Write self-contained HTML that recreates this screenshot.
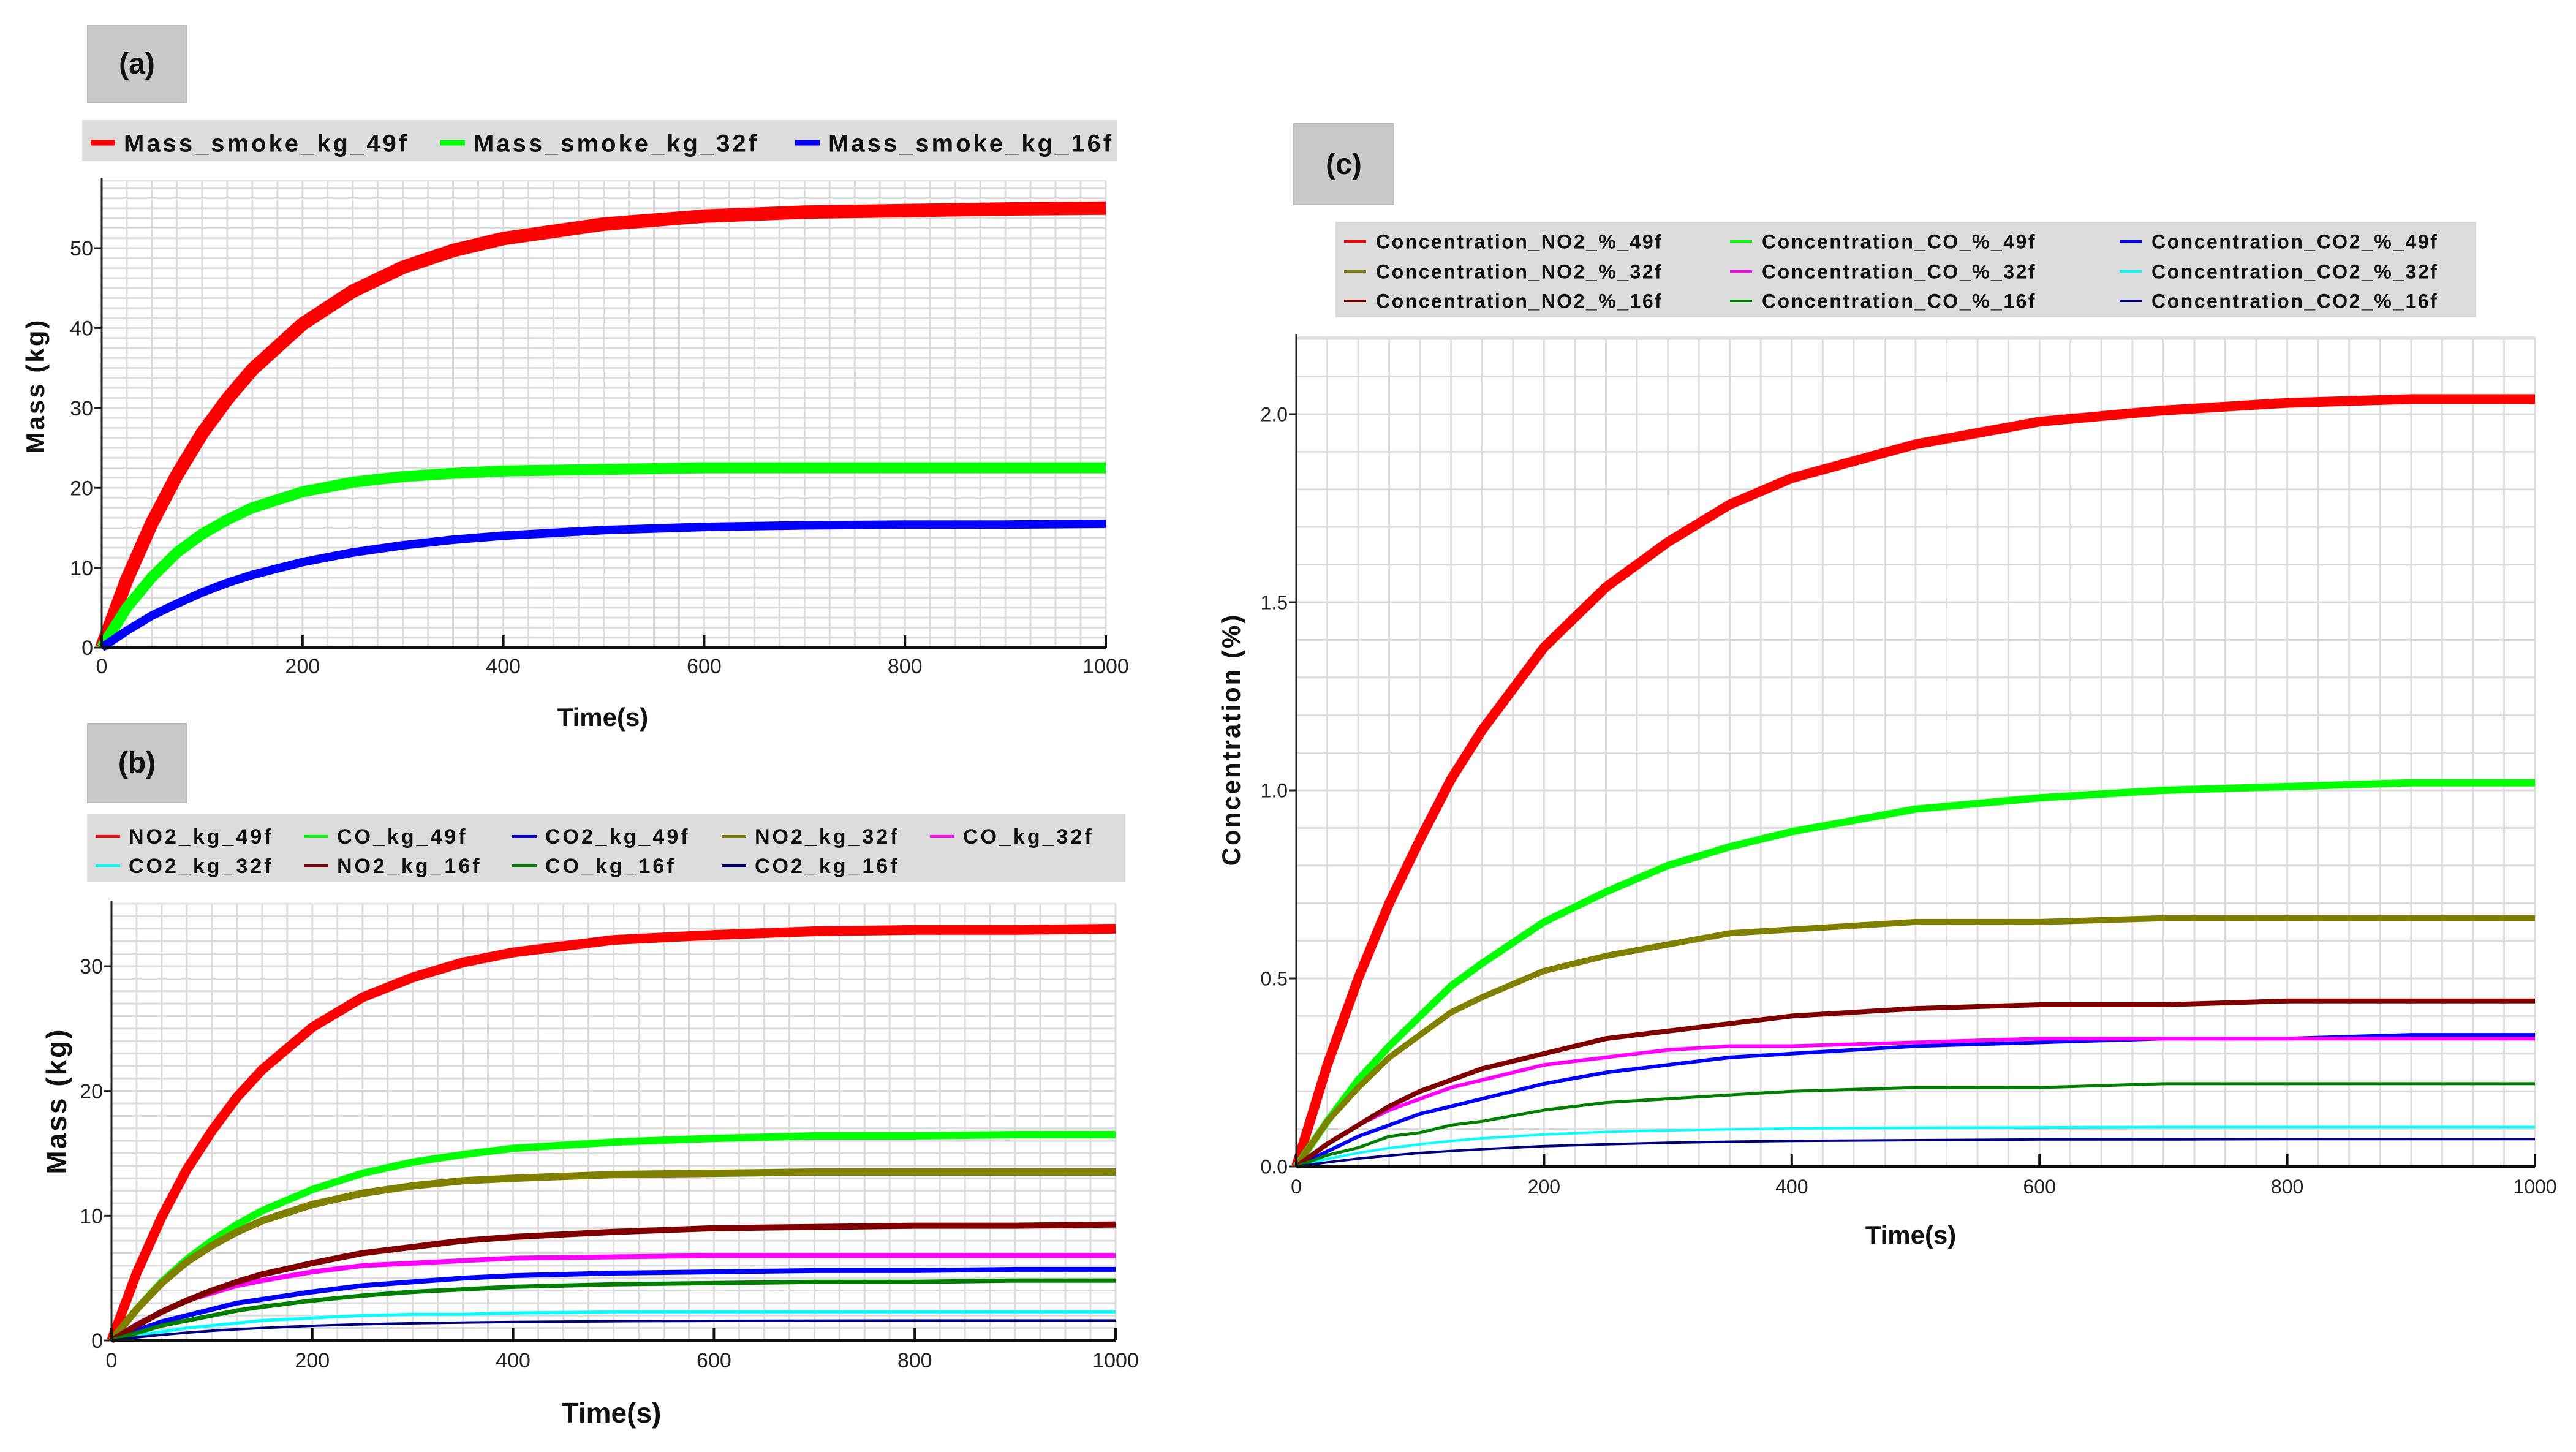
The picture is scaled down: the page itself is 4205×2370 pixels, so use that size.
<!DOCTYPE html>
<html><head><meta charset="utf-8"><style>
html,body{margin:0;padding:0;background:#fff;}
#root{position:relative;width:4205px;height:2370px;overflow:hidden;font-family:"Liberation Sans",sans-serif;}
.lbl{position:absolute;background:#c8c8c8;border:2px solid #bbb;font-weight:bold;font-size:48px;display:flex;align-items:center;justify-content:center;color:#111;}
.leg{position:absolute;background:#dcdcdc;}
svg{position:absolute;left:0;top:0;}
</style></head><body>
<div id="root">
<div class="lbl" style="left:142px;top:40px;width:159px;height:124px;">(a)</div>
<div class="leg" style="left:134px;top:196px;width:1690px;height:67px;"></div>
<div class="lbl" style="left:142px;top:1180px;width:159px;height:127px;">(b)</div>
<div class="leg" style="left:142px;top:1328px;width:1695px;height:112px;"></div>
<div class="lbl" style="left:2111px;top:201px;width:161px;height:130px;">(c)</div>
<div class="leg" style="left:2180px;top:362px;width:1862px;height:156px;"></div>
<svg id="svg" width="4205" height="2370"></svg>
</div>
<script>
// ---- data ----
const times = [0,25,50,75,100,125,150,200,250,300,350,400,500,600,700,800,900,1000];
const xTicks = [0,200,400,600,800,1000];
// Panel (a)
const aNames = ["Mass_smoke_kg_49f","Mass_smoke_kg_32f","Mass_smoke_kg_16f"];
const aRed = [0,8.5,15.6,21.6,26.8,31.1,34.8,40.5,44.6,47.6,49.7,51.2,53.0,54.0,54.5,54.7,54.9,55.0];
const aGreen = [0,5.0,8.8,11.9,14.2,16.0,17.5,19.5,20.7,21.4,21.8,22.1,22.3,22.5,22.5,22.5,22.5,22.5];
const aBlue = [0,2.1,4.0,5.5,6.9,8.1,9.1,10.7,11.9,12.8,13.5,14.0,14.7,15.1,15.3,15.4,15.4,15.5];
const aYTicks = [0,10,20,30,40,50];
// Panel (b)
const bNames = ["NO2_kg_49f","CO_kg_49f","CO2_kg_49f","NO2_kg_32f","CO_kg_32f","CO2_kg_32f","NO2_kg_16f","CO_kg_16f","CO2_kg_16f"];
const bNO2_49 = [0,5.4,9.9,13.7,16.8,19.5,21.7,25.1,27.5,29.1,30.3,31.1,32.1,32.5,32.8,32.9,32.9,33.0];
const bCO_49 = [0,2.5,4.7,6.5,8.0,9.3,10.4,12.1,13.4,14.3,14.9,15.4,15.9,16.2,16.4,16.4,16.5,16.5];
const bCO2_49 = [0,0.8,1.5,2.0,2.5,3.0,3.3,3.9,4.4,4.7,5.0,5.2,5.4,5.5,5.6,5.6,5.7,5.7];
const bNO2_32 = [0,2.5,4.6,6.3,7.6,8.7,9.6,10.9,11.8,12.4,12.8,13.0,13.3,13.4,13.5,13.5,13.5,13.5];
const bCO_32 = [0,1.3,2.3,3.2,3.8,4.4,4.8,5.5,6.0,6.2,6.4,6.6,6.7,6.8,6.8,6.8,6.8,6.8];
const bCO2_32 = [0,0.4,0.7,1.0,1.2,1.4,1.6,1.8,2.0,2.1,2.1,2.2,2.3,2.3,2.3,2.3,2.3,2.3];
const bNO2_16 = [0,1.2,2.3,3.2,4.0,4.7,5.3,6.2,7.0,7.5,8.0,8.3,8.7,9.0,9.1,9.2,9.2,9.3];
const bCO_16 = [0,0.6,1.2,1.6,2.0,2.4,2.7,3.2,3.6,3.9,4.1,4.3,4.5,4.6,4.7,4.7,4.8,4.8];
const bCO2_16 = [0,0.25,0.45,0.63,0.78,0.9,1.0,1.18,1.3,1.38,1.44,1.49,1.54,1.57,1.59,1.6,1.6,1.6];
const bYTicks = [0,10,20,30];
// Panel (c)
const cNames = ["Concentration_NO2_%_49f","Concentration_CO_%_49f","Concentration_CO2_%_49f","Concentration_NO2_%_32f","Concentration_CO_%_32f","Concentration_CO2_%_32f","Concentration_NO2_%_16f","Concentration_CO_%_16f","Concentration_CO2_%_16f"];
const cNO2_49 = [0,0.27,0.50,0.70,0.87,1.03,1.16,1.38,1.54,1.66,1.76,1.83,1.92,1.98,2.01,2.03,2.04,2.04];
const cCO_49 = [0,0.12,0.23,0.32,0.40,0.48,0.54,0.65,0.73,0.80,0.85,0.89,0.95,0.98,1.0,1.01,1.02,1.02];
const cCO2_49 = [0,0.04,0.08,0.11,0.14,0.16,0.18,0.22,0.25,0.27,0.29,0.30,0.32,0.33,0.34,0.34,0.35,0.35];
const cNO2_32 = [0,0.12,0.21,0.29,0.35,0.41,0.45,0.52,0.56,0.59,0.62,0.63,0.65,0.65,0.66,0.66,0.66,0.66];
const cCO_32 = [0,0.06,0.11,0.15,0.18,0.21,0.23,0.27,0.29,0.31,0.32,0.32,0.33,0.34,0.34,0.34,0.34,0.34];
const cCO2_32 = [0,0.02,0.036,0.049,0.059,0.068,0.075,0.085,0.092,0.096,0.099,0.101,0.103,0.104,0.105,0.105,0.105,0.105];
const cNO2_16 = [0,0.06,0.11,0.16,0.20,0.23,0.26,0.30,0.34,0.36,0.38,0.40,0.42,0.43,0.43,0.44,0.44,0.44];
const cCO_16 = [0,0.03,0.05,0.08,0.09,0.11,0.12,0.15,0.17,0.18,0.19,0.20,0.21,0.21,0.22,0.22,0.22,0.22];
const cCO2_16 = [0,0.011,0.021,0.029,0.036,0.041,0.046,0.054,0.059,0.063,0.066,0.068,0.070,0.072,0.072,0.073,0.073,0.073];
const cYTicks = ["0.0","0.5","1.0","1.5","2.0"];

const NS = "http://www.w3.org/2000/svg";
const svg = document.getElementById('svg');
function mk(tag, attrs, parent){ const e=document.createElementNS(NS,tag); for(const k in attrs) e.setAttribute(k,attrs[k]); (parent||svg).appendChild(e); return e; }

function chart(cfg){
  const g = mk('g',{});
  
  
  const xs = v => cfg.x0 + (v/1000)*(cfg.x1-cfg.x0);
  const ys = v => cfg.y0 - (v/cfg.ymaxRef)*(cfg.y0-cfg.yRef);
  for(let t=0;t<=1000;t+=25){
    const x=xs(t);
    mk('line',{x1:x,x2:x,y1:cfg.top,y2:cfg.y0,stroke:'#dcdcdc','stroke-width':3},g);
  }
  for(let v=cfg.gstep; ys(v)>=cfg.top-1; v+=cfg.gstep){
    const y=ys(v);
    mk('line',{x1:cfg.x0,x2:cfg.x1,y1:y,y2:y,stroke:'#dcdcdc','stroke-width':3},g);
  }
  mk('line',{x1:cfg.x0,x2:cfg.x1,y1:cfg.top,y2:cfg.top,stroke:'#e4e4e4','stroke-width':3},g);
  cfg.series.forEach((s,i)=>{
    const pts = times.map((t,j)=>xs(t).toFixed(1)+','+ys(s.data[j]).toFixed(1)).join(' ');
    const p = mk('polyline',{points:pts,fill:'none',stroke:s.color,'stroke-width':s.w,'stroke-linejoin':'round'},g);
    
    
  });
  mk('line',{x1:cfg.x0,x2:cfg.x0,y1:cfg.top-5,y2:cfg.y0,stroke:'#222','stroke-width':3},g);
  mk('line',{x1:cfg.x0,x2:cfg.x1,y1:cfg.y0,y2:cfg.y0,stroke:'#111','stroke-width':5},g);
  xTicks.forEach(t=>{
    const x=xs(t);
    mk('line',{x1:x,x2:x,y1:cfg.y0-20,y2:cfg.y0,stroke:'#111','stroke-width':4},g);
    const tx=mk('text',{x:x,y:cfg.y0+cfg.xlOff,'text-anchor':'middle','font-size':cfg.fs,fill:'#222'},g);
    tx.textContent=t;
    
    
  });
  cfg.yTicks.forEach(t=>{
    const y=ys(parseFloat(t));
    mk('line',{x1:cfg.x0-12,x2:cfg.x0,y1:y,y2:y,stroke:'#222','stroke-width':3},g);
    const tx=mk('text',{x:cfg.x0-14,y:y+cfg.fs*0.36,'text-anchor':'end','font-size':cfg.fs,fill:'#222'},g);
    tx.textContent=t;
    
    
  });
  const xt=mk('text',{x:cfg.xtX,y:cfg.xtY,'text-anchor':'middle','font-size':cfg.tfs,'font-weight':'bold',fill:'#111'},g);
  xt.textContent='Time(s)';
  
  
  const yt=mk('text',{x:0,y:0,'text-anchor':'middle','font-size':cfg.tfs,'font-weight':'bold',fill:'#111','letter-spacing':'3',transform:`translate(${cfg.ytX},${cfg.ytY}) rotate(-90)`},g);
  yt.textContent=cfg.ytitle;
  
  
  cfg.series.forEach((s,i)=>{
    const lx=cfg.legX[i%cfg.legCols], ly=cfg.legY[Math.floor(i/cfg.legCols)];
    mk('line',{x1:lx,x2:lx+cfg.legLine,y1:ly,y2:ly,stroke:s.color,'stroke-width':cfg.legW},g);
    const tx=mk('text',{x:lx+cfg.legLine+cfg.legGap,y:ly+cfg.lfs*0.36,'font-size':cfg.lfs,'font-weight':'bold',fill:'#111','letter-spacing':cfg.ls},g);
    tx.textContent=s.label;
    
    
  });
}

chart({name:'panel-a-chart',x0:166,x1:1805,y0:1057,yRef:405,ymaxRef:50,top:295,gstep:1.25,fs:34,xlOff:42,
  yTicks:aYTicks,tfs:42,xtX:984,xtY:1185,ytX:72,ytY:630,ytitle:'Mass (kg)',
  series:[{label:aNames[0],data:aRed,color:'#ff0000',w:22},{label:aNames[1],data:aGreen,color:'#00ff00',w:18},{label:aNames[2],data:aBlue,color:'#0000ff',w:14}],
  legX:[148,719,1298],legY:[233],legCols:3,legLine:40,legGap:14,legW:9,lfs:40,ls:'4',});

chart({name:'panel-b-chart',x0:182,x1:1821,y0:2188,yRef:1577,ymaxRef:30,top:1475,gstep:1,fs:34,xlOff:44,
  yTicks:bYTicks,tfs:46,xtX:998,xtY:2322,ytX:108,ytY:1797,ytitle:'Mass (kg)',
  series:[{label:bNames[0],data:bNO2_49,color:'#ff0000',w:16},{label:bNames[1],data:bCO_49,color:'#00ff00',w:12},{label:bNames[2],data:bCO2_49,color:'#0000ff',w:8},
    {label:bNames[3],data:bNO2_32,color:'#808000',w:12},{label:bNames[4],data:bCO_32,color:'#ff00ff',w:8},{label:bNames[5],data:bCO2_32,color:'#00ffff',w:5},
    {label:bNames[6],data:bNO2_16,color:'#800000',w:10},{label:bNames[7],data:bCO_16,color:'#008000',w:7},{label:bNames[8],data:bCO2_16,color:'#000080',w:4}],
  legX:[156,496,836,1178,1518],legY:[1365,1413],legCols:5,legLine:40,legGap:14,legW:4,lfs:34,ls:'4'});

chart({name:'panel-c-chart',x0:2116,x1:4138,y0:1904,yRef:676,ymaxRef:2.0,top:550,gstep:0.1,fs:32,xlOff:44,
  yTicks:cYTicks,tfs:42,xtX:3119,xtY:2030,ytX:2024,ytY:1207,ytitle:'Concentration (%)',
  series:[{label:cNames[0],data:cNO2_49,color:'#ff0000',w:16},{label:cNames[1],data:cCO_49,color:'#00ff00',w:12},{label:cNames[2],data:cCO2_49,color:'#0000ff',w:6},
    {label:cNames[3],data:cNO2_32,color:'#808000',w:10},{label:cNames[4],data:cCO_32,color:'#ff00ff',w:6},{label:cNames[5],data:cCO2_32,color:'#00ffff',w:4},
    {label:cNames[6],data:cNO2_16,color:'#800000',w:8},{label:cNames[7],data:cCO_16,color:'#008000',w:5},{label:cNames[8],data:cCO2_16,color:'#000080',w:4}],
  legX:[2194,2824,3460],legY:[394,443,491],legCols:3,legLine:36,legGap:16,legW:4,lfs:32,ls:'2.5'});
</script>
</body></html>
